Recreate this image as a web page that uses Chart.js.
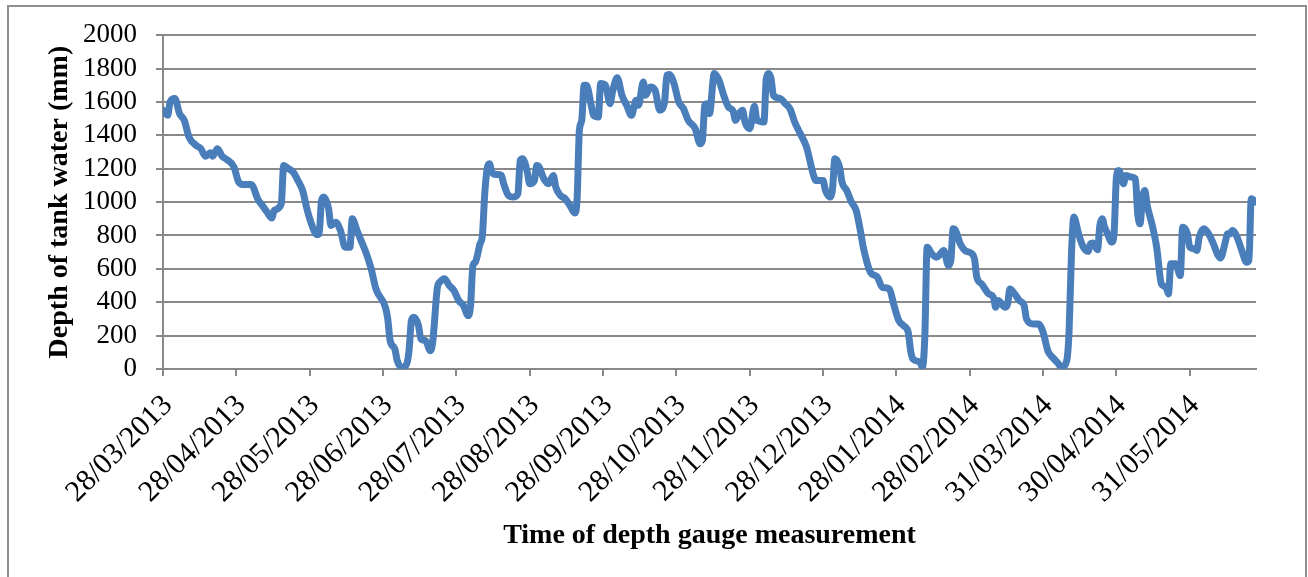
<!DOCTYPE html>
<html>
<head>
<meta charset="utf-8">
<script src="https://cdn.jsdelivr.net/npm/chart.js@4.4.1/dist/chart.umd.min.js"></script>
<style>
  html, body { margin: 0; padding: 0; background: #fff; }
  canvas { display: block; }
</style>
</head>
<body>
<canvas id="depth-chart" width="1308" height="577"></canvas>
<script>
// tick labels, one every 31 readings
const tickLabels = [
  "28/03/2013", "28/04/2013", "28/05/2013", "28/06/2013", "28/07/2013",
  "28/08/2013", "28/09/2013", "28/10/2013", "28/11/2013", "28/12/2013",
  "28/01/2014", "28/02/2014", "31/03/2014", "30/04/2014", "31/05/2014",
];
const TICK_EVERY = 31;
const LAST_READING = 462;

// reading number (days since 28/03/2013, as plotted) and tank depth in mm
const dayIndex = [
  0, 2, 3, 5, 7, 9, 11, 14, 16, 18, 20, 21, 23, 25, 27, 30, 32, 34, 37, 38,
  40, 42, 44, 46, 47, 50, 51, 53, 55, 57, 59, 61, 63, 65, 66, 67, 68, 70, 71, 73,
  75, 77, 79, 80, 82, 84, 86, 88, 90, 94, 95, 96, 98, 99, 101, 103, 104, 105, 106, 108,
  109, 111, 113, 114, 116, 117, 119, 121, 123, 125, 127, 129, 130, 131, 132, 134, 135, 136, 137, 138,
  139, 141, 143, 144, 146, 148, 150, 151, 152, 154, 155, 157, 158, 159, 161, 163, 165, 166, 168, 170,
  172, 174, 175, 176, 177, 178, 179, 181, 182, 184, 185, 187, 189, 190, 192, 194, 196, 198, 200, 201,
  203, 204, 206, 208, 210, 212, 213, 214, 216, 218, 220, 222, 225, 227, 228, 229, 230, 231, 233, 235,
  237, 239, 241, 242, 244, 245, 246, 248, 250, 251, 252, 254, 255, 256, 257, 258, 261, 263, 265, 267,
  269, 272, 275, 276, 279, 280, 282, 283, 284, 286, 287, 289, 291, 293, 295, 296, 299, 301, 302, 304,
  307, 309, 311, 313, 315, 316, 317, 320, 321, 322, 323, 325, 327, 328, 330, 332, 333, 334, 335, 337,
  339, 342, 343, 344, 346, 349, 351, 352, 353, 356, 357, 358, 360, 362, 364, 365, 368, 370, 372, 374,
  376, 378, 380, 382, 383, 384, 385, 387, 389, 391, 392, 393, 395, 396, 397, 398, 399, 401, 402, 403,
  404, 405, 406, 407, 409, 411, 412, 413, 414, 415, 416, 418, 420, 422, 424, 425, 426, 428, 430, 431,
  433, 434, 436, 437, 438, 440, 442, 444, 446, 447, 449, 450, 451, 452, 454, 456, 458, 459, 460, 462,
];
const depth = [
  1550, 1520, 1600, 1620, 1530, 1490, 1390, 1340, 1320, 1275, 1295, 1275, 1320, 1275, 1255, 1210, 1120, 1105, 1105, 1095,
  1020, 980, 940, 905, 950, 990, 1220, 1200, 1180, 1130, 1070, 950, 860, 805, 810, 1010, 1030, 960, 860, 880,
  830, 730, 730, 900, 830, 760, 690, 600, 480, 370, 300, 170, 120, 50, 10, 30, 110, 290, 310, 260,
  180, 170, 110, 160, 490, 520, 540, 500, 470, 410, 380, 320, 380, 620, 640, 750, 800, 1050, 1200, 1230,
  1180, 1165, 1160, 1110, 1040, 1030, 1050, 1250, 1260, 1180, 1110, 1130, 1220, 1210, 1140, 1110, 1160, 1090, 1040, 1020,
  980, 935, 1010, 1430, 1490, 1700, 1700, 1580, 1520, 1510, 1710, 1700, 1590, 1660, 1745, 1640, 1580, 1520, 1610, 1580,
  1720, 1640, 1690, 1670, 1550, 1600, 1760, 1765, 1710, 1600, 1560, 1490, 1440, 1350, 1370, 1580, 1590, 1530, 1770, 1730,
  1640, 1570, 1545, 1490, 1540, 1550, 1480, 1440, 1575, 1490, 1485, 1480, 1740, 1770, 1740, 1640, 1620, 1590, 1560, 1480,
  1420, 1330, 1160, 1130, 1130, 1070, 1030, 1080, 1260, 1210, 1120, 1070, 1000, 950, 810, 730, 580, 560, 550, 490,
  480, 380, 290, 260, 220, 110, 60, 40, 10, 190, 730, 690, 670, 680, 710, 620, 650, 840, 830, 750,
  710, 690, 660, 550, 510, 450, 430, 370, 410, 370, 390, 480, 450, 410, 380, 300, 270, 270, 220, 110,
  70, 40, 10, 50, 230, 690, 910, 810, 730, 705, 750, 755, 715, 860, 900, 850, 820, 760, 810, 1150,
  1190, 1160, 1110, 1160, 1150, 1140, 930, 870, 1030, 1070, 980, 870, 730, 510, 490, 450, 630, 630, 560, 850,
  810, 730, 720, 710, 790, 840, 810, 750, 680, 665, 760, 810, 810, 830, 790, 710, 640, 650, 1020, 1000,
];

const gridColor = "#898989";
const serif = "'Liberation Serif', 'Times New Roman', serif";

// grey frame round the whole chart, like the office export
const frame = {
  id: "frame",
  beforeDraw(chart) {
    const { ctx } = chart;
    ctx.save();
    ctx.fillStyle = "#fff";
    ctx.fillRect(0, 0, chart.width, chart.height);
    ctx.strokeStyle = "#8e8e8e";
    ctx.lineWidth = 2;
    ctx.strokeRect(8, 6, 1298, 600);
    ctx.restore();
  },
};

const config = {
  type: "line",
  data: {
    datasets: [
      {
        label: "Depth of tank water",
        data: dayIndex.map((d, i) => ({ x: d, y: depth[i] })),
        borderColor: "#4a7ebb",
        borderWidth: 7,
        pointRadius: 0,
        cubicInterpolationMode: "monotone",
        borderJoinStyle: "round",
        borderCapStyle: "round",
        fill: false,
      },
    ],
  },
  options: {
    responsive: false,
    animation: false,
    devicePixelRatio: 1,
    layout: {
      padding: { left: 0, right: 52, top: 35, bottom: 0 },
    },
    plugins: {
      legend: { display: false },
      tooltip: { enabled: false },
    },
    scales: {
      x: {
        type: "linear",
        min: 0,
        max: LAST_READING,
        afterFit(scale) {
          scale.height = 208;
        },
        ticks: {
          stepSize: TICK_EVERY,
          includeBounds: false,
          autoSkip: false,
          maxRotation: 45,
          minRotation: 45,
          padding: 12,
          labelOffset: 5,
          color: "#000",
          font: { family: serif, size: 30 },
          callback: (value) => tickLabels[Math.round(value / TICK_EVERY)] ?? "",
        },
        grid: {
          display: true,
          drawOnChartArea: false,
          drawTicks: true,
          tickLength: 7,
          color: gridColor,
          lineWidth: 2,
        },
        border: { color: gridColor, width: 2 },
        title: {
          display: true,
          text: "Time of depth gauge measurement",
          color: "#000",
          font: { family: serif, size: 28, weight: "bold" },
          padding: { top: 0, bottom: 24 },
        },
      },
      y: {
        min: 0,
        max: 2000,
        afterFit(scale) {
          scale.width = 163;
        },
        ticks: {
          stepSize: 200,
          autoSkip: false,
          padding: 19,
          color: "#000",
          font: { family: serif, size: 27 },
          callback: (value) => String(value),
        },
        grid: {
          color: gridColor,
          lineWidth: 2,
          tickLength: 7,
        },
        border: { color: gridColor, width: 2 },
        title: {
          display: true,
          text: "Depth of tank water (mm)",
          color: "#000",
          font: { family: serif, size: 28, weight: "bold" },
          padding: { top: 43, bottom: 0 },
        },
      },
    },
  },
  plugins: [frame],
};

new Chart(document.getElementById("depth-chart"), config);
</script>
</body>
</html>
